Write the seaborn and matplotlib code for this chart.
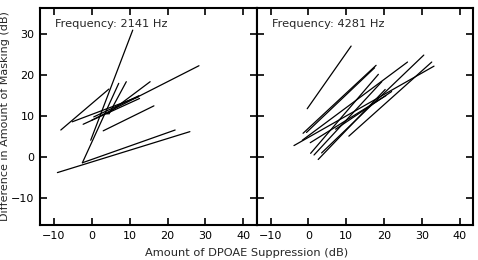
import numpy as np
import pandas as pd
import seaborn as sns
import matplotlib
matplotlib.use("Agg")
import matplotlib.pyplot as plt

# each line = one subject: (suppression, masking diff) at low and high probe level
f2141_x0 = [-2.5, -0.3, -8.2, -5.2, -2.3, 4.0, 0.0, 3.0, 4.5, -9.1, -2.5, 0.5]
f2141_y0 = [-1.4, 4.1, 6.6, 8.6, 8.0, 10.5, 9.0, 6.4, 10.5, -3.8, -1.4, 9.8]
f2141_x1 = [7.1, 10.8, 4.5, 12.3, 12.6, 15.4, 28.3, 16.4, 9.1, 25.9, 22.0, 12.5]
f2141_y1 = [18.0, 31.0, 16.6, 14.7, 14.3, 18.4, 22.3, 12.5, 18.4, 6.2, 6.6, 15.0]

f4281_x0 = [-0.3, -1.4, -0.5, 0.6, 1.5, 2.6, -3.8, 10.7, -1.6, 3.5, 0.5, 7.2]
f4281_y0 = [11.8, 5.8, 6.0, 0.9, 0.5, -0.6, 2.8, 5.1, 4.1, 1.0, 3.5, 6.8]
f4281_x1 = [11.3, 17.9, 17.5, 18.5, 19.4, 20.3, 33.2, 32.6, 26.2, 30.5, 20.5, 22.0]
f4281_y1 = [27.1, 22.4, 21.8, 20.2, 18.4, 16.5, 22.2, 23.2, 23.2, 24.9, 15.0, 16.0]

panels = [
    ("Frequency: 2141 Hz", f2141_x0, f2141_y0, f2141_x1, f2141_y1),
    ("Frequency: 4281 Hz", f4281_x0, f4281_y0, f4281_x1, f4281_y1),
]

x_ticks = [-10, 0, 10, 20, 30, 40]
y_ticks = [-10, 0, 10, 20, 30]


def to_long(x0, y0, x1, y1):
    rows = []
    for i in range(len(x0)):
        rows.append({"subject": i, "x": x0[i], "y": y0[i]})
        rows.append({"subject": i, "x": x1[i], "y": y1[i]})
    return pd.DataFrame(rows)


sns.set_theme(style="ticks")
plt.rcParams["font.family"] = ["DejaVu Sans"]

fig, axes = plt.subplots(1, 2, figsize=(4.78, 2.60), dpi=100, sharey=True)
fig.subplots_adjust(left=40 / 478, right=473 / 478, top=1 - 8 / 260,
                    bottom=1 - 225 / 260, wspace=0)

for i, (ax, (title, x0, y0, x1, y1)) in enumerate(zip(axes, panels)):
    df = to_long(x0, y0, x1, y1)
    sns.lineplot(data=df, x="x", y="y", units="subject", estimator=None,
                 color="black", lw=0.9, ax=ax, legend=False, sort=False)
    ax.set_xlim(-13.7, 43.5)
    ax.set_ylim(-16.6, 36.4)
    ax.set_xticks(x_ticks)
    ax.set_yticks(y_ticks)
    ax.set_xlabel("")
    ax.set_ylabel("")
    ax.text(0.07, 0.925, title, transform=ax.transAxes, fontsize=8.2,
            ha="left", va="center")
    ax.tick_params(direction="in", length=5, width=1.2, top=True, right=True,
                   labelsize=8, pad=4, colors="black")
    if i == 1:
        ax.tick_params(labelleft=False)
    for s in ax.spines.values():
        s.set_linewidth(1.5)
        s.set_color("black")

fig.text(5.5 / 478, 1 - 116.5 / 260, "Difference in Amount of Masking (dB)",
         rotation=90, ha="center", va="center", fontsize=8)
fig.text(247 / 478, 1 - 253 / 260, "Amount of DPOAE Suppression (dB)",
         ha="center", va="center", fontsize=8.2)

fig.savefig("out.png", dpi=100)
